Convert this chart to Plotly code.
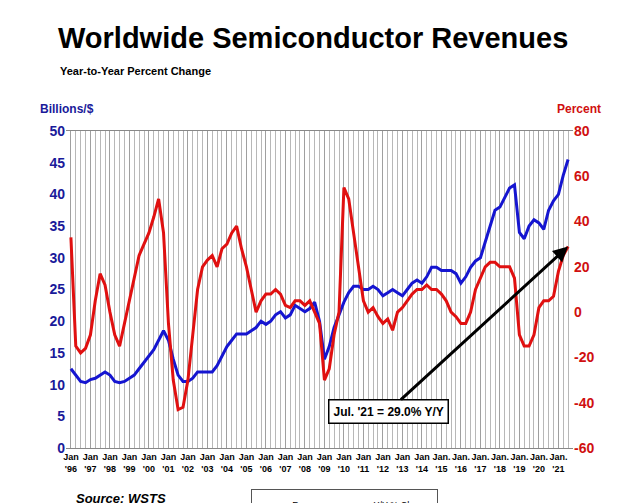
import pandas as pd
import plotly.graph_objects as go

# quarterly readings, Jan 1996 .. Jul 2021
revenue = [12.5, 11.5, 10.5, 10.3, 10.8, 11, 11.5, 12, 11.5, 10.5, 10.3, 10.5,
           11, 11.5, 12.5, 13.5, 14.5, 15.5, 17, 18.5, 17, 14, 11.5, 10.5,
           10.5, 11, 12, 12, 12, 12, 13, 14.5, 16, 17, 18, 18,
           18, 18.5, 19, 20, 19.5, 20, 21, 21.5, 20.5, 21, 22.5, 22,
           21.5, 22, 23, 20, 14, 16, 19, 21, 23, 24.5, 25.5, 25.5,
           25, 25, 25.5, 25, 24, 24.5, 25, 24.5, 24, 25, 26, 26.5,
           26, 27, 28.5, 28.5, 28, 28, 28, 27.5, 26, 27, 28.5, 29.5,
           30, 32.5, 35, 37.5, 38, 39.5, 41, 41.5, 34, 33, 35, 36,
           35.5, 34.5, 37.5, 39, 40, 43, 45.5]
yoy = [33, -15, -18, -16, -10, 5, 17, 12, 0, -10, -15, -5,
       5, 15, 25, 30, 35, 42, 50, 35, -5, -30, -43, -42,
       -30, -10, 10, 20, 23, 25, 20, 28, 30, 35, 38, 28,
       20, 10, 0, 5, 8, 8, 10, 8, 3, 2, 5, 5,
       3, 5, 0, -5, -30, -25, -10, 0, 55, 50, 35, 20,
       5, 0, 2, -2, -5, -3, -8, 0, 2, 5, 8, 10,
       10, 12, 10, 10, 8, 5, 0, -2, -5, -5, 0, 10,
       15, 20, 22, 22, 20, 20, 20, 15, -10, -15, -15, -10,
       2, 5, 5, 7, 18, 25, 29]
dates = pd.date_range("1996-01-01", periods=len(revenue), freq="QS")

years = list(range(1996, 2022))
tick_vals = [pd.Timestamp(f"{y}-01-01") for y in years]
tick_text = ["<b>" + ("Jan" if y < 2015 else "Jan.") + f"<br>'{str(y)[2:]}</b>" for y in years]
left_ticks = list(range(0, 51, 5))
right_ticks = list(range(-60, 81, 20))

fig = go.Figure()
fig.add_trace(go.Scatter(x=dates, y=revenue, mode="lines", name="Revenue",
                         line=dict(color="#1515d0", width=3)))
fig.add_trace(go.Scatter(x=dates, y=yoy, mode="lines", name="Y/Y % Change", yaxis="y2",
                         line=dict(color="#e01010", width=3)))

fig.add_annotation(x=dates[-1], y=29, yref="y2", ax=-180, ay=165,
                   text="<b>Jul. '21 = 29.0% Y/Y</b>", showarrow=True, arrowhead=2,
                   arrowwidth=3, arrowcolor="black", bgcolor="white",
                   bordercolor="black", borderwidth=1.5, borderpad=4,
                   font=dict(size=12, color="black"))

fig.update_layout(
    width=625, height=503,
    margin=dict(l=58, r=60, t=123, b=63, autoexpand=False),
    paper_bgcolor="white", plot_bgcolor="white",
    font=dict(family="Liberation Sans, Arial", color="black"),
    title=dict(text="<b>Worldwide Semiconductor Revenues</b>", x=0.08, xanchor="left",
               y=0.94, yanchor="middle", font=dict(size=29)),
    xaxis=dict(range=[pd.Timestamp("1995-10-01"), pd.Timestamp("2021-10-01")],
               tickvals=tick_vals, ticktext=tick_text, tickangle=0,
               tickfont=dict(size=9), showgrid=True, gridcolor="#a0a0a0",
               minor=dict(dtick="M3", showgrid=True, gridcolor="#b8b8b8"),
               showline=True, linecolor="#888", mirror=True, automargin=False),
    yaxis=dict(range=[0, 50], tickvals=left_ticks,
               ticktext=[f"<b>{v}</b>" for v in left_ticks], showgrid=False,
               tickfont=dict(size=14, color="#1a1a9a"), zeroline=False, automargin=False),
    yaxis2=dict(range=[-60, 80], overlaying="y", side="right", showgrid=False,
                tickvals=right_ticks, ticktext=[f"<b>{v}</b>" for v in right_ticks],
                tickfont=dict(size=14, color="#d01010"), zeroline=False, automargin=False),
    showlegend=True,
    legend=dict(orientation="h", x=0.55, y=-0.13, xanchor="center", yanchor="top",
                bordercolor="#555", borderwidth=1, font=dict(size=9)),
)
fig.add_annotation(text="<b>Billions/$</b>", xref="paper", yref="paper", x=-0.055, y=1.068,
                   showarrow=False, xanchor="left", yanchor="middle",
                   font=dict(size=12, color="#1a1a9a"))
fig.add_annotation(text="<b>Percent</b>", xref="paper", yref="paper", x=1.06, y=1.068,
                   showarrow=False, xanchor="right", yanchor="middle",
                   font=dict(size=12, color="#d01010"))
fig.add_annotation(text="<b>Year-to-Year Percent Change</b>", xref="paper", yref="paper",
                   x=-0.016, y=1.19, showarrow=False, xanchor="left", yanchor="middle",
                   font=dict(size=11))
fig.add_annotation(text="<b><i>Source: WSTS</i></b>", xref="paper", yref="paper",
                   x=0.015, y=-0.158, showarrow=False, xanchor="left", yanchor="middle",
                   font=dict(size=13))

fig.write_html("out.html")
